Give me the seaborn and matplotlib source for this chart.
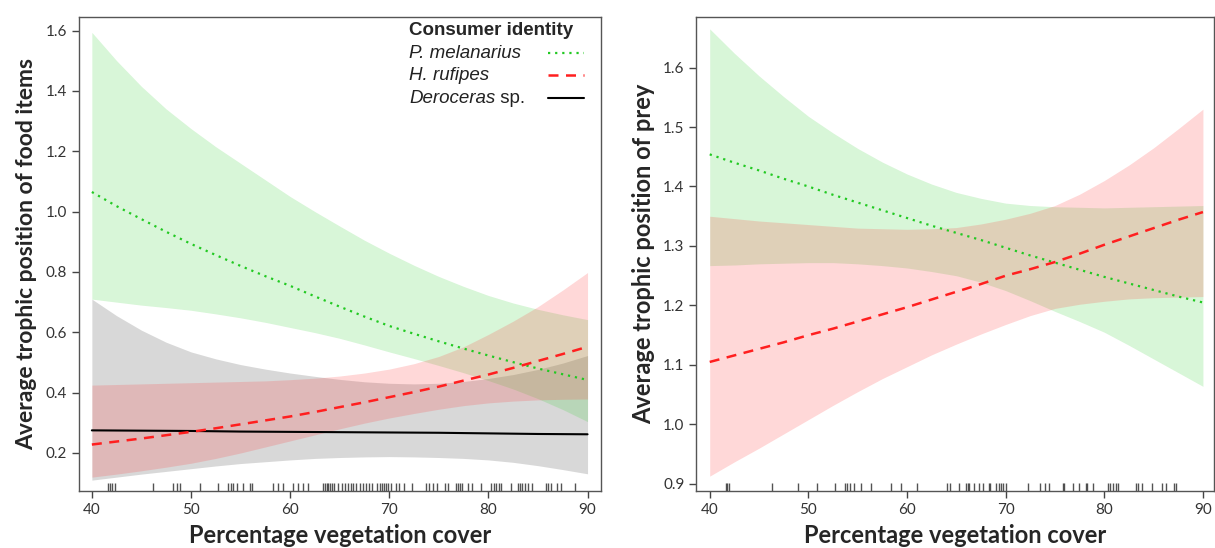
import numpy as np
import pandas as pd
import matplotlib.pyplot as plt
import seaborn as sns

# vegetation cover grid for the fitted curves
cover = [40, 42.5, 45, 47.5, 50, 52.5, 55, 57.5, 60, 62.5, 65,
         67.5, 70, 72.5, 75, 77.5, 80, 82.5, 85, 87.5, 90]

# left panel: trophic position of food items
food_pmel = [1.065, 1.018, 0.975, 0.933, 0.893, 0.856, 0.82, 0.786, 0.754, 0.719, 0.685,
             0.652, 0.621, 0.595, 0.57, 0.546, 0.523, 0.501, 0.48, 0.461, 0.442]
food_pmel_hi = [1.594, 1.50, 1.415, 1.34, 1.275, 1.215, 1.16, 1.105, 1.05, 1.0, 0.952,
                0.905, 0.862, 0.822, 0.785, 0.752, 0.722, 0.697, 0.676, 0.658, 0.642]
food_pmel_lo = [0.71, 0.70, 0.69, 0.682, 0.673, 0.661, 0.648, 0.633, 0.616, 0.599, 0.58,
                0.558, 0.535, 0.513, 0.49, 0.466, 0.44, 0.412, 0.38, 0.344, 0.304]

food_hruf = [0.228, 0.238, 0.248, 0.259, 0.27, 0.282, 0.295, 0.308, 0.321, 0.336, 0.352,
             0.368, 0.385, 0.402, 0.42, 0.44, 0.46, 0.482, 0.505, 0.528, 0.552]
food_hruf_hi = [0.425, 0.427, 0.429, 0.431, 0.433, 0.435, 0.437, 0.439, 0.443, 0.448, 0.455,
                0.465, 0.478, 0.496, 0.52, 0.552, 0.593, 0.637, 0.685, 0.74, 0.798]
food_hruf_lo = [0.12, 0.13, 0.141, 0.153, 0.166, 0.182, 0.2, 0.22, 0.24, 0.26, 0.28,
                0.299, 0.316, 0.331, 0.345, 0.357, 0.366, 0.372, 0.376, 0.378, 0.379]

food_dero = [0.275, 0.2745, 0.274, 0.2735, 0.273, 0.272, 0.271, 0.2705, 0.27, 0.2695, 0.269,
             0.2685, 0.268, 0.2675, 0.267, 0.266, 0.265, 0.264, 0.263, 0.2625, 0.262]
food_dero_hi = [0.71, 0.655, 0.607, 0.567, 0.535, 0.512, 0.493, 0.478, 0.465, 0.454, 0.444,
                0.436, 0.431, 0.429, 0.431, 0.437, 0.447, 0.46, 0.477, 0.498, 0.523]
food_dero_lo = [0.11, 0.12, 0.13, 0.139, 0.148, 0.157, 0.165, 0.171, 0.177, 0.182, 0.185,
                0.187, 0.188, 0.187, 0.185, 0.182, 0.177, 0.169, 0.158, 0.145, 0.131]

food_rug = [41.6, 41.8, 42.0, 42.3, 46.2, 48.2, 48.6, 48.9, 50.9, 52.7, 53.7, 54.0,
            54.2, 54.6, 55.2, 56.0, 56.2, 58.3, 58.8, 59.3, 60.3, 60.8, 61.3, 61.8,
            63.3, 63.5, 63.7, 63.8, 64.0, 64.2, 64.4, 64.8, 65.2, 65.5, 65.8, 66.1,
            66.3, 66.6, 67.0, 67.3, 67.7, 68.0, 68.3, 68.8, 69.1, 69.3, 69.5, 69.7,
            69.9, 70.2, 70.7, 71.0, 71.5, 72.3, 73.7, 74.0, 74.4, 74.8, 75.6, 75.9,
            76.7, 76.9, 77.1, 77.3, 77.9, 78.3, 79.3, 80.3, 80.6, 80.8, 81.1, 81.3,
            82.3, 83.0, 83.2, 83.4, 83.7, 84.0, 84.4, 85.8, 86.0, 86.3, 86.9, 87.3, 88.7]

# right panel: trophic position of prey
prey_pmel = [1.454, 1.44, 1.427, 1.413, 1.4, 1.386, 1.373, 1.36, 1.347, 1.334, 1.322,
             1.31, 1.297, 1.284, 1.272, 1.26, 1.248, 1.237, 1.226, 1.215, 1.205]
prey_pmel_hi = [1.665, 1.624, 1.586, 1.551, 1.518, 1.49, 1.464, 1.441, 1.421, 1.404, 1.39,
                1.38, 1.372, 1.368, 1.366, 1.365, 1.364, 1.365, 1.366, 1.367, 1.368]
prey_pmel_lo = [1.267, 1.268, 1.27, 1.271, 1.272, 1.272, 1.27, 1.267, 1.263, 1.257, 1.25,
                1.239, 1.225, 1.208, 1.19, 1.173, 1.155, 1.133, 1.11, 1.087, 1.064]

prey_hruf = [1.105, 1.116, 1.127, 1.138, 1.15, 1.161, 1.173, 1.185, 1.197, 1.21, 1.223,
             1.236, 1.25, 1.261, 1.273, 1.287, 1.302, 1.316, 1.33, 1.344, 1.357]
prey_hruf_hi = [1.35, 1.346, 1.342, 1.339, 1.336, 1.333, 1.33, 1.329, 1.328, 1.329, 1.331,
                1.337, 1.345, 1.355, 1.368, 1.387, 1.41, 1.436, 1.465, 1.497, 1.53]
prey_hruf_lo = [0.913, 0.937, 0.96, 0.984, 1.008, 1.032, 1.055, 1.077, 1.097, 1.117, 1.135,
                1.152, 1.168, 1.183, 1.195, 1.202, 1.207, 1.211, 1.213, 1.214, 1.215]

prey_rug = [41.7, 41.8, 42.0, 46.3, 49.0, 50.9, 52.7, 53.7, 53.9, 54.2, 54.6, 55.3,
            56.3, 58.4, 59.4, 61.0, 64.1, 64.4, 65.3, 66.0, 66.2, 66.3, 66.8, 67.3,
            67.7, 68.3, 68.4, 69.0, 69.3, 69.5, 69.7, 70.0, 72.3, 73.5, 74.0, 74.4,
            75.8, 75.9, 76.8, 77.4, 78.1, 78.2, 78.9, 80.4, 80.6, 80.9, 81.2, 81.4,
            83.2, 83.4, 83.8, 84.8, 85.8, 86.3, 87.1, 87.3]

GREEN = '#22c922'
RED = '#ff1f1f'
DOT = (0, (1, 2.2))
DASH = (0, (4, 3))

sns.set_style("ticks")
plt.rcParams['font.family'] = ['Lato', 'DejaVu Sans']

fig = plt.figure(figsize=(12.15, 5.48), dpi=100)
ax1 = fig.add_axes([0.065, 0.104, 0.43, 0.865])
ax2 = fig.add_axes([0.573, 0.104, 0.426, 0.865])


def band(ax, lo, hi, color, alpha):
    ax.fill_between(cover, lo, hi, color=color, alpha=alpha, linewidth=0)


# confidence bands
band(ax1, food_dero_lo, food_dero_hi, '#808080', 0.3)
band(ax1, food_pmel_lo, food_pmel_hi, '#3cd23c', 0.2)
band(ax1, food_hruf_lo, food_hruf_hi, '#ff3c3c', 0.2)
band(ax2, prey_pmel_lo, prey_pmel_hi, '#3cd23c', 0.2)
band(ax2, prey_hruf_lo, prey_hruf_hi, '#ff3c3c', 0.2)

# fitted lines
sns.lineplot(x=cover, y=food_dero, ax=ax1, color='black', linewidth=1.5)
sns.lineplot(x=cover, y=food_pmel, ax=ax1, color=GREEN, linewidth=1.6, linestyle=DOT)
sns.lineplot(x=cover, y=food_hruf, ax=ax1, color=RED, linewidth=1.8, linestyle=DASH)
sns.lineplot(x=cover, y=prey_pmel, ax=ax2, color=GREEN, linewidth=1.6, linestyle=DOT)
sns.lineplot(x=cover, y=prey_hruf, ax=ax2, color=RED, linewidth=1.8, linestyle=DASH)

# rugs
sns.rugplot(x=food_rug, ax=ax1, height=0.016, color='0.25', linewidth=1, alpha=0.9)
sns.rugplot(x=prey_rug, ax=ax2, height=0.016, color='0.25', linewidth=1, alpha=0.9)

ax1.set_xlim(38.7, 91.4)
ax1.set_ylim(0.074, 1.645)
ax1.set_yticks([0.2, 0.4, 0.6, 0.8, 1.0, 1.2, 1.4, 1.6])
ax2.set_xlim(38.63, 91.1)
ax2.set_ylim(0.888, 1.685)
ax2.set_yticks([0.9, 1.0, 1.1, 1.2, 1.3, 1.4, 1.5, 1.6])

for ax in (ax1, ax2):
    ax.set_xticks([40, 50, 60, 70, 80, 90])
    ax.yaxis.set_major_formatter(plt.FormatStrFormatter('%.1f'))
    ax.tick_params(direction='out', length=5, width=1, color='#444444',
                   labelsize=11, labelcolor='#333333')
    for sp in ax.spines.values():
        sp.set_visible(True)
        sp.set_color('#555555')
        sp.set_linewidth(1)
    ax.set_xlabel('Percentage vegetation cover', fontsize=17, fontweight='bold', labelpad=5)

ax1.set_ylabel('Average trophic position of food items', fontsize=16.5, fontweight='bold', labelpad=6)
ax2.set_ylabel('Average trophic position of prey', fontsize=17, fontweight='bold', labelpad=6)

# legend: text column on the left, line keys on the right
LEG_FONT = 'Liberation Sans'
LEG_X = 0.632
leg_y = [0.924, 0.877, 0.829]
ax1.text(LEG_X, 0.971, 'Consumer identity', transform=ax1.transAxes, fontsize=13.5,
         fontweight='bold', family=LEG_FONT, va='center')
ax1.text(LEG_X, leg_y[0], 'P. melanarius', transform=ax1.transAxes, fontsize=13.5,
         family=LEG_FONT, style='italic', color='#222222', va='center')
ax1.text(LEG_X, leg_y[1], 'H. rufipes', transform=ax1.transAxes, fontsize=13.5,
         family=LEG_FONT, style='italic', color='#222222', va='center')
t_dero = ax1.text(LEG_X, leg_y[2] - 0.011, 'Deroceras', transform=ax1.transAxes, fontsize=13.5,
                  family=LEG_FONT, style='italic', color='#222222', va='baseline')
ax1.annotate(' sp.', xy=(1, 0), xycoords=t_dero, fontsize=13.5, family=LEG_FONT,
             color='#222222', va='bottom', ha='left')
for (c, ls, lw), y in zip([(GREEN, DOT, 1.6), (RED, DASH, 1.8), ('black', '-', 1.5)], leg_y):
    ax1.plot([0.898, 0.966], [y, y], transform=ax1.transAxes, color=c, linestyle=ls, linewidth=lw)

fig.savefig('out.png', dpi=100)
